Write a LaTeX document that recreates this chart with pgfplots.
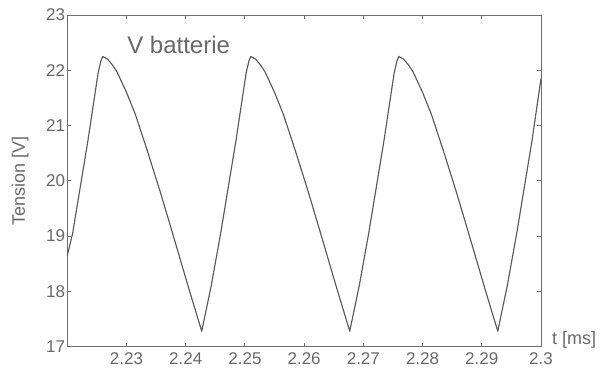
\documentclass[border=0pt]{standalone}
\usepackage{fontspec}
\setmainfont{Liberation Sans}
\usepackage{pgfplots}
\pgfplotsset{compat=1.18}
\definecolor{txtgray}{RGB}{105,105,105}
\definecolor{linegray}{RGB}{90,90,90}
\definecolor{axgray}{RGB}{110,110,110}
\begin{document}
\begin{tikzpicture}
\begin{axis}[
  scale only axis,
  width=473.7pt, height=331.7pt,
  xmin=2.22, xmax=2.3, ymin=17, ymax=23,
  xtick={2.23,2.24,2.25,2.26,2.27,2.28,2.29,2.3},
  xticklabels={2.23,2.24,2.25,2.26,2.27,2.28,2.29,2.3},
  ytick={17,18,19,20,21,22,23},
  yticklabels={17,18,19,20,21,22,23},
  tick align=inside,
  major tick length=4pt,
  axis line style={axgray, line width=0.9pt},
  tick style={axgray, line width=0.9pt},
  /pgf/number format/assume math mode=true,
  ticklabel style={font=\fontsize{17}{20}\selectfont, text=txtgray, inner sep=1pt},
  xticklabel style={yshift=-5pt},
  yticklabel style={xshift=-1pt},
  clip=false,
]
\addplot[linegray, line width=1.15pt, line join=round] coordinates {
(2.2200,18.65) (2.2209,19.05) (2.2235,20.74) (2.2252,21.95) (2.2257,22.18) (2.2260,22.25)
(2.2268,22.20) (2.2276,22.10) (2.2284,21.97) (2.2300,21.60) (2.2315,21.20) (2.2335,20.55)
(2.2357,19.80) (2.2377,19.08) (2.2405,18.06) (2.2427,17.28)
(2.2443,18.10) (2.2459,19.05) (2.2485,20.74) (2.2502,21.95) (2.2507,22.18) (2.2510,22.25)
(2.2518,22.20) (2.2526,22.10) (2.2534,21.97) (2.2550,21.60) (2.2565,21.20) (2.2585,20.55)
(2.2607,19.80) (2.2627,19.08) (2.2655,18.06) (2.2677,17.28)
(2.2693,18.10) (2.2709,19.05) (2.2735,20.74) (2.2752,21.95) (2.2757,22.18) (2.2760,22.25)
(2.2768,22.20) (2.2776,22.10) (2.2784,21.97) (2.2800,21.60) (2.2815,21.20) (2.2835,20.55)
(2.2857,19.80) (2.2877,19.08) (2.2905,18.06) (2.2927,17.28)
(2.2943,18.10) (2.2959,19.05) (2.2985,20.74) (2.3000,21.85)
};
\node[text=txtgray, font=\fontsize{24}{28}\selectfont, anchor=base west, inner sep=0pt] at (axis cs:2.2301,22.31) {V batterie};
\node[text=txtgray, font=\fontsize{18}{21}\selectfont, anchor=west, inner sep=0pt] at ([xshift=11pt,yshift=7pt]rel axis cs:1,0) {t [ms]};
\node[text=txtgray, font=\fontsize{18}{21}\selectfont, rotate=90, inner sep=0pt] at ([xshift=-47pt]rel axis cs:0,0.5) {Tension [V]};
\end{axis}
\pgfresetboundingbox
\path ([xshift=-67.3pt,yshift=-26.3pt]current axis.south west) rectangle ([xshift=66pt,yshift=15pt]current axis.north east);
\end{tikzpicture}
\end{document}
